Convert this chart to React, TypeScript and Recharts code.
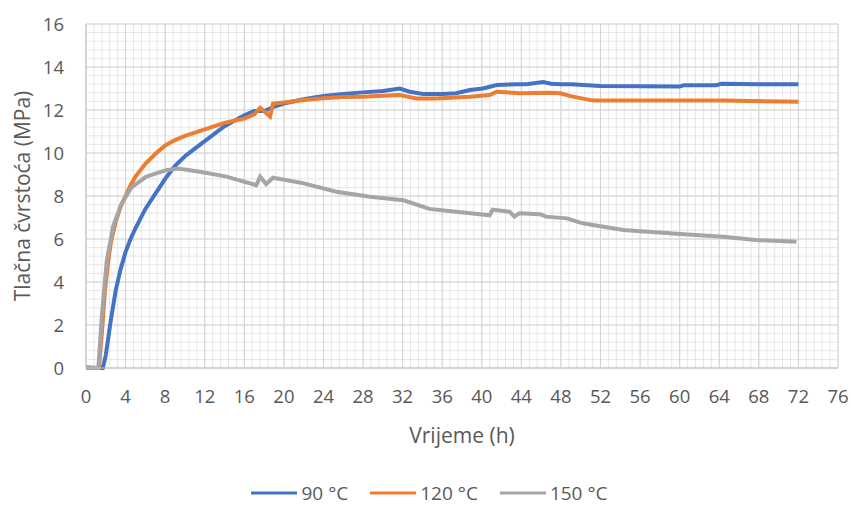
import React from 'react';
import { LineChart, Line, XAxis, YAxis, CartesianGrid, Legend } from 'recharts';

// 90 °C
const hours90 = [0, 1.7, 2.0, 2.5, 3.0, 3.5, 4.0, 4.5, 5, 6, 7, 8, 9, 10, 11, 12, 13, 14, 15, 16, 17, 18, 19, 20, 22, 24, 26, 28, 30, 31.7, 32.7, 34.1, 36, 37.4, 38.8, 40.1, 41.5, 43.5, 44.5, 46.2, 47, 48, 49, 52, 56, 60, 60.4, 63.7, 64.2, 68, 72];
const strength90 = [0, 0, 0.6, 2.2, 3.6, 4.6, 5.4, 6.0, 6.5, 7.4, 8.1, 8.8, 9.4, 9.85, 10.2, 10.55, 10.9, 11.25, 11.5, 11.75, 11.95, 11.95, 12.15, 12.3, 12.5, 12.65, 12.75, 12.82, 12.88, 13.0, 12.85, 12.75, 12.75, 12.78, 12.93, 13.0, 13.16, 13.2, 13.2, 13.3, 13.22, 13.2, 13.2, 13.12, 13.1, 13.09, 13.15, 13.15, 13.22, 13.2, 13.2];

// 120 °C
const hours120 = [0, 1.3, 1.6, 1.9, 2.2, 2.5, 3, 3.5, 4, 4.5, 5, 6, 7, 8, 9, 10, 11, 12, 13, 14, 15, 16, 17, 17.6, 18.1, 18.6, 18.9, 20, 22, 24, 26, 28, 30, 31.7, 33.4, 35.4, 38.8, 40.8, 41.5, 43.8, 46.9, 47.9, 49.2, 50.9, 51.3, 60, 64.3, 72];
const strength120 = [0, 0, 1.6, 3.5, 4.8, 5.8, 6.8, 7.5, 8.0, 8.5, 8.9, 9.5, 9.95, 10.35, 10.6, 10.8, 10.95, 11.1, 11.25, 11.4, 11.5, 11.6, 11.8, 12.1, 11.9, 11.7, 12.3, 12.35, 12.47, 12.55, 12.6, 12.62, 12.66, 12.7, 12.54, 12.54, 12.62, 12.7, 12.85, 12.78, 12.8, 12.78, 12.62, 12.47, 12.44, 12.44, 12.44, 12.38];

// 150 °C
const hours150 = [0, 1.2, 1.25, 1.6, 2.1, 2.75, 3.6, 4.6, 6.1, 8.1, 9.3, 11.5, 14.2, 17.2, 17.6, 18.2, 18.9, 21.9, 25.3, 28.7, 32.1, 34.7, 37.4, 40.8, 41.1, 42.8, 43.3, 43.8, 45.9, 46.5, 48.6, 50.2, 54.3, 59.3, 64.4, 67.7, 71.8];
const strength150 = [0.05, 0, 0, 2.4, 5.0, 6.6, 7.65, 8.4, 8.9, 9.2, 9.28, 9.13, 8.9, 8.5, 8.9, 8.55, 8.85, 8.6, 8.2, 7.97, 7.8, 7.4, 7.27, 7.1, 7.37, 7.27, 7.04, 7.2, 7.15, 7.04, 6.96, 6.73, 6.42, 6.26, 6.1, 5.95, 5.87];

const seriesNames = ['90 °C', '120 °C', '150 °C'];
const seriesColors = ['#4472C4', '#ED7D31', '#A5A5A5'];

const xDomain = [0, 76];
const yDomain = [0, 16];
const xTicks = [0, 4, 8, 12, 16, 20, 24, 28, 32, 36, 40, 44, 48, 52, 56, 60, 64, 68, 72, 76];
const yTicks = [0, 2, 4, 6, 8, 10, 12, 14, 16];
// minor gridlines: 5 per major step
const minorXTicks = Array.from({ length: 96 }, (_, i) => i * 0.8);
const minorYTicks = Array.from({ length: 41 }, (_, i) => i * 0.4);

const toPoints = (hours: number[], values: number[]) =>
  hours.map((h, i) => ({ h, v: values[i] }));

const series = [
  toPoints(hours90, strength90),
  toPoints(hours120, strength120),
  toPoints(hours150, strength150),
];

const textColor = '#595959';
const font = '"Open Sans", sans-serif';

const renderLegend = (props: any) => {
  const items = [...(props.payload || [])].sort(
    (a: any, b: any) => seriesNames.indexOf(a.value) - seriesNames.indexOf(b.value)
  );
  return (
    <div style={{ display: 'flex', justifyContent: 'center', alignItems: 'center', height: 30, fontFamily: font }}>
      {items.map((entry: any, i: number) => (
        <div key={entry.value} style={{ display: 'flex', alignItems: 'center', marginLeft: i === 0 ? 0 : 22 }}>
          <svg width={46} height={10}>
            <line x1={0} y1={5} x2={46} y2={5} stroke={entry.color} strokeWidth={3} />
          </svg>
          <span style={{ marginLeft: 4, color: textColor, fontSize: 19 }}>{entry.value}</span>
        </div>
      ))}
    </div>
  );
};

// use the axis scale when it is exposed, else map through the plot offset
const scaleOf = (axis: any) => {
  const s = axis && axis.scale;
  if (typeof s === 'function') return (t: number) => s(t);
  if (s && typeof s.map === 'function') return (t: number) => s.map(t);
  return null;
};

const minorVertical = ({ xAxis, offset }: any) => {
  const f = scaleOf(xAxis);
  if (f) return minorXTicks.map(f);
  return minorXTicks.map((t) => offset.left + ((t - xDomain[0]) / (xDomain[1] - xDomain[0])) * offset.width);
};

const minorHorizontal = ({ yAxis, offset }: any) => {
  const f = scaleOf(yAxis);
  if (f) return minorYTicks.map(f);
  return minorYTicks.map((t) => offset.top + (1 - (t - yDomain[0]) / (yDomain[1] - yDomain[0])) * offset.height);
};

const App = () => {
  return (
    <div style={{ position: 'absolute', left: 0, top: 0, width: 851, height: 508, background: '#fff' }}>
      <LineChart
        width={851}
        height={508}
        margin={{ top: 24, right: 13, left: 0, bottom: 30 }}
        style={{ fontFamily: font }}
      >
        <CartesianGrid
          stroke="#e6e6e6"
          verticalCoordinatesGenerator={minorVertical}
          horizontalCoordinatesGenerator={minorHorizontal}
        />
        <CartesianGrid stroke="#d4d4d4" />
        <XAxis
          type="number"
          dataKey="h"
          domain={xDomain}
          ticks={xTicks}
          height={80}
          tickLine={false}
          tickSize={0}
          tickMargin={22}
          axisLine={{ stroke: '#c4c4c4' }}
          tick={{ fill: textColor, fontSize: 18.5 }}
          label={{
            content: (p: any) => (
              <text
                x={p.viewBox.x + p.viewBox.width / 2}
                y={p.viewBox.y + 75}
                textAnchor="middle"
                fill={textColor}
                fontSize={21}
              >
                Vrijeme (h)
              </text>
            ),
          }}
        />
        <YAxis
          type="number"
          domain={yDomain}
          ticks={yTicks}
          width={86}
          tickLine={false}
          tickSize={0}
          tickMargin={22}
          axisLine={{ stroke: '#c4c4c4' }}
          tick={{ fill: textColor, fontSize: 18.5 }}
          label={{
            content: (p: any) => {
              const cx = p.viewBox.x + 22;
              const cy = p.viewBox.y + p.viewBox.height / 2;
              return (
                <text
                  x={cx}
                  y={cy}
                  transform={`rotate(-90, ${cx}, ${cy})`}
                  textAnchor="middle"
                  dominantBaseline="central"
                  fill={textColor}
                  fontSize={21}
                >
                  Tlačna čvrstoća (MPa)
                </text>
              );
            },
          }}
        />
        <Legend verticalAlign="bottom" height={30} wrapperStyle={{ bottom: 0, left: 4, width: 851 }} content={renderLegend} />
        {series.map((points, i) => (
          <Line
            key={seriesNames[i]}
            data={points}
            dataKey="v"
            name={seriesNames[i]}
            type="linear"
            stroke={seriesColors[i]}
            strokeWidth={4}
            dot={false}
            activeDot={false}
            isAnimationActive={false}
          />
        ))}
      </LineChart>
    </div>
  );
};

export default App;
